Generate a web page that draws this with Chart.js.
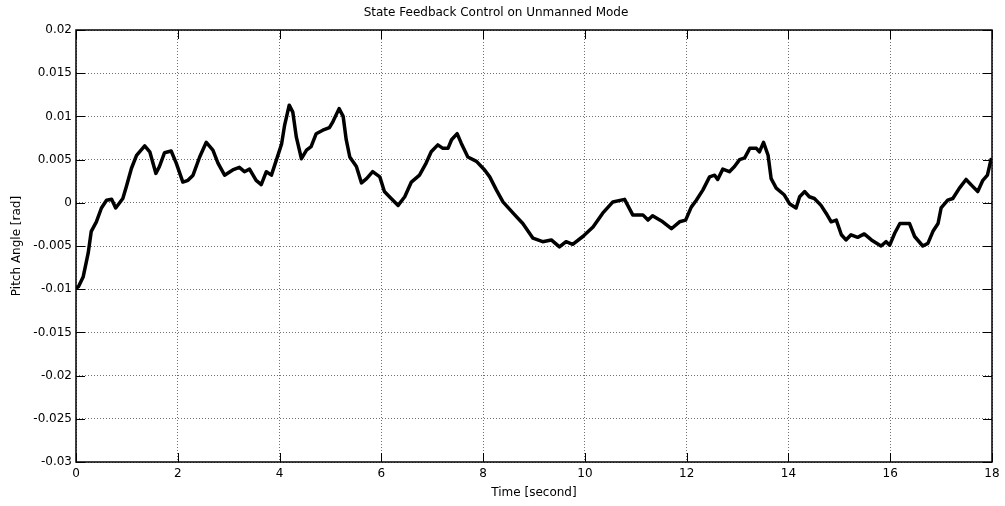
<!DOCTYPE html>
<html>
<head>
<meta charset="utf-8">
<script src="https://cdn.jsdelivr.net/npm/chart.js@4"></script>
<style>
  body { margin: 0; background: #fff; }
  #wrap { width: 1005px; height: 506px; }
</style>
</head>
<body>
<div id="wrap"><canvas id="pitch-chart" width="1005" height="506"></canvas></div>
<script>
/***** Data *****/
let TIME_SEC = [
    0.00, 0.05, 0.14, 0.24, 0.30, 0.40, 0.50, 0.60, 0.70, 0.78, 0.92, 0.99,
    1.09, 1.19, 1.35, 1.45, 1.57, 1.64, 1.74, 1.87, 1.97, 2.10, 2.20, 2.30,
    2.43, 2.56, 2.69, 2.79, 2.92, 3.08, 3.21, 3.31, 3.41, 3.54, 3.64, 3.74,
    3.84, 3.94, 4.04, 4.10, 4.19, 4.26, 4.33, 4.43, 4.53, 4.62, 4.72, 4.85,
    4.98, 5.05, 5.17, 5.25, 5.31, 5.38, 5.51, 5.61, 5.71, 5.83, 5.97, 6.06,
    6.16, 6.33, 6.46, 6.59, 6.75, 6.88, 6.98, 7.11, 7.21, 7.31, 7.38, 7.49,
    7.57, 7.70, 7.87, 8.03, 8.13, 8.26, 8.39, 8.59, 8.78, 8.98, 9.17, 9.34,
    9.50, 9.63, 9.76, 9.96, 10.16, 10.35, 10.55, 10.78, 10.94, 11.14, 11.24, 11.33,
    11.53, 11.70, 11.86, 11.98, 12.09, 12.19, 12.32, 12.45, 12.55, 12.61, 12.71, 12.84,
    12.94, 13.04, 13.14, 13.24, 13.37, 13.43, 13.51, 13.60, 13.66, 13.76, 13.92, 14.02,
    14.15, 14.22, 14.32, 14.41, 14.51, 14.64, 14.74, 14.84, 14.94, 15.04, 15.13, 15.23,
    15.36, 15.49, 15.63, 15.82, 15.92, 15.99, 16.09, 16.19, 16.38, 16.48, 16.64, 16.74,
    16.84, 16.94, 17.00, 17.13, 17.23, 17.36, 17.49, 17.62, 17.72, 17.82, 17.91, 17.98
];
let PITCH_RAD = [
    -0.0099, -0.0097, -0.0086, -0.0058, -0.0033, -0.0022, -0.0006, 0.0003, 0.0004, -0.0006, 0.0005, 0.0019,
    0.0040, 0.0055, 0.0066, 0.0059, 0.0034, 0.0042, 0.0058, 0.0060, 0.0046, 0.0024, 0.0026, 0.0032,
    0.0053, 0.0070, 0.0061, 0.0046, 0.0032, 0.0038, 0.0041, 0.0036, 0.0039, 0.0026, 0.0021, 0.0036,
    0.0032, 0.0050, 0.0068, 0.0090, 0.0113, 0.0105, 0.0076, 0.0051, 0.0061, 0.0065, 0.0080, 0.0084,
    0.0087, 0.0094, 0.0109, 0.0100, 0.0073, 0.0053, 0.0042, 0.0023, 0.0028, 0.0036, 0.0030, 0.0013,
    0.0007, -0.0003, 0.0007, 0.0024, 0.0032, 0.0046, 0.0059, 0.0067, 0.0063, 0.0063, 0.0073, 0.0080,
    0.0069, 0.0053, 0.0048, 0.0038, 0.0030, 0.0015, 0.0001, -0.0012, -0.0024, -0.0041, -0.0045, -0.0043,
    -0.0051, -0.0045, -0.0048, -0.0039, -0.0028, -0.0012, 0.0001, 0.0004, -0.0014, -0.0014, -0.0020, -0.0015,
    -0.0022, -0.0030, -0.0022, -0.0020, -0.0005, 0.0003, 0.0015, 0.0030, 0.0032, 0.0027, 0.0039, 0.0036,
    0.0042, 0.0050, 0.0052, 0.0063, 0.0063, 0.0059, 0.0070, 0.0055, 0.0028, 0.0017, 0.0009, -0.0001,
    -0.0006, 0.0007, 0.0013, 0.0007, 0.0005, -0.0003, -0.0012, -0.0022, -0.0020, -0.0037, -0.0043, -0.0037,
    -0.0040, -0.0036, -0.0043, -0.0050, -0.0045, -0.0049, -0.0035, -0.0024, -0.0024, -0.0039, -0.0050, -0.0047,
    -0.0033, -0.0024, -0.0006, 0.0003, 0.0005, 0.0017, 0.0027, 0.0019, 0.0013, 0.0026, 0.0032, 0.0050
];
let X_TICKS = [0, 2, 4, 6, 8, 10, 12, 14, 16, 18];
let Y_TICKS = [0.02, 0.015, 0.01, 0.005, 0, -0.005, -0.01, -0.015, -0.02, -0.025, -0.03];

let FONT_FAMILY = "'DejaVu Sans', Verdana, sans-serif";

//Box round the plot and MATLAB style inward tick marks
const boxAndTicks = {
    id: 'boxAndTicks',
    afterDatasetsDraw(chart) {
        const ctx = chart.ctx;
        const a = chart.chartArea;
        const xs = chart.scales.x, ys = chart.scales.y;
        const len = 9;
        ctx.save();
        ctx.strokeStyle = '#000';
        ctx.lineWidth = 1;
        ctx.beginPath();
        X_TICKS.forEach(function (t) {
            let px = Math.round(xs.getPixelForValue(t)) + 0.5;
            ctx.moveTo(px, a.bottom); ctx.lineTo(px, a.bottom - len);
            ctx.moveTo(px, a.top); ctx.lineTo(px, a.top + len);
        });
        Y_TICKS.forEach(function (v) {
            let py = Math.round(ys.getPixelForValue(v)) + 0.5;
            ctx.moveTo(a.left, py); ctx.lineTo(a.left + len, py);
            ctx.moveTo(a.right, py); ctx.lineTo(a.right - len, py);
        });
        ctx.stroke();
        ctx.lineWidth = 1.5;
        ctx.strokeRect(a.left, a.top, a.right - a.left, a.bottom - a.top);
        ctx.restore();
    }
};

let points = [];
for (let i = 0; i < TIME_SEC.length; i++) {
    points.push({x: TIME_SEC[i], y: PITCH_RAD[i]});
}

new Chart(document.getElementById('pitch-chart'), {
    type: 'line',
    data: {
        datasets: [{
            data: points,
            borderColor: '#000',
            borderWidth: 3.5,
            borderJoinStyle: 'round',
            borderCapStyle: 'round',
            pointRadius: 0,
            tension: 0,
            fill: false
        }]
    },
    options: {
        responsive: false,
        animation: false,
        devicePixelRatio: 1,
        layout: {padding: {left: 0, right: 13, top: 0, bottom: 0}},
        plugins: {
            legend: {display: false},
            tooltip: {enabled: false},
            title: {
                display: true,
                text: 'State Feedback Control on Unmanned Mode',
                color: '#000',
                font: {family: FONT_FAMILY, size: 12, weight: 'normal', lineHeight: 1.2},
                padding: {top: 6, bottom: 9.6}
            }
        },
        scales: {
            x: {
                type: 'linear',
                min: 0, max: 18,
                afterBuildTicks: function (scale) {
                    scale.ticks = X_TICKS.map(function (v) { return {value: v}; });
                },
                afterFit: function (scale) { scale.height = 44; },
                ticks: {
                    color: '#000',
                    font: {family: FONT_FAMILY, size: 12},
                    padding: 5,
                    maxRotation: 0,
                    callback: function (v) { return String(v); }
                },
                grid: {color: '#707070', lineWidth: 1, drawTicks: false},
                border: {display: false, dash: [1, 2]},
                title: {
                    display: true,
                    text: 'Time [second]',
                    color: '#000',
                    font: {family: FONT_FAMILY, size: 12, lineHeight: 1.2},
                    padding: {top: 0, bottom: 6}
                }
            },
            y: {
                type: 'linear',
                min: -0.03, max: 0.02,
                afterBuildTicks: function (scale) {
                    scale.ticks = Y_TICKS.slice().reverse().map(function (v) { return {value: v}; });
                },
                afterFit: function (scale) { scale.width = 76; },
                ticks: {
                    color: '#000',
                    font: {family: FONT_FAMILY, size: 12},
                    padding: 4,
                    callback: function (v) { return String(parseFloat(v.toFixed(3))); }
                },
                grid: {color: '#707070', lineWidth: 1, drawTicks: false},
                border: {display: false, dash: [1, 2]},
                title: {
                    display: true,
                    text: 'Pitch Angle [rad]',
                    color: '#000',
                    font: {family: FONT_FAMILY, size: 12, lineHeight: 1.2},
                    padding: {top: 10, bottom: 0}
                }
            }
        }
    },
    plugins: [boxAndTicks]
});
</script>
</body>
</html>
